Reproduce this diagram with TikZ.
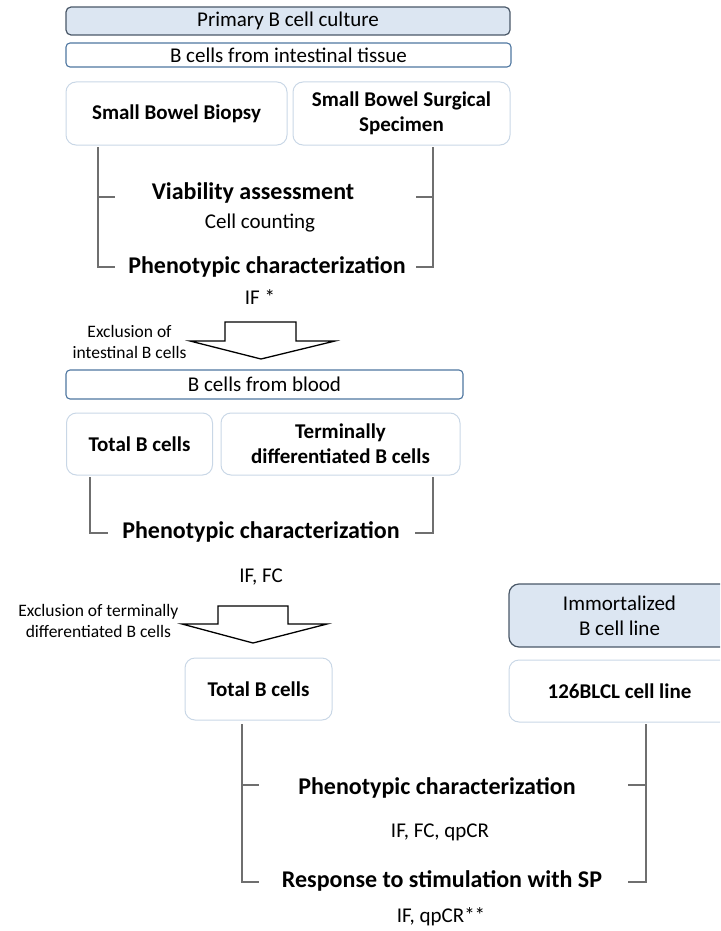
\documentclass[tikz,border=0pt]{standalone}
\usepackage{fontspec}
\setmainfont{Carlito}
\usetikzlibrary{positioning}

\begin{document}
\begin{tikzpicture}[x=1pt, y=-1pt,
    hdrbox/.style={draw=hdrBorder, fill=hdrFill, line width=1.2pt, rounded corners=5pt, inner sep=0pt, align=center, font=\fontsize{21}{25}\selectfont},
    srcbox/.style={draw=srcBorder, line width=1.1pt, rounded corners=4pt, inner sep=0pt, font=\fontsize{21}{25}\selectfont},
    typebox/.style={draw=typeBorder, line width=1pt, rounded corners=10pt, inner sep=0pt, align=center, font=\bfseries\fontsize{21}{25}\selectfont},
    stage/.style={font=\bfseries\fontsize{24}{28}\selectfont},
    method/.style={font=\fontsize{21}{24}\selectfont},
    note/.style={align=center, font=\fontsize{17.5}{21}\selectfont},
    bracket/.style={draw=bracketColour, line width=1.1pt},
    blockarrow/.style={draw=black, line width=1.3pt, fill=white, line join=miter}]

    \definecolor{hdrFill}{HTML}{DCE6F2}
    \definecolor{hdrBorder}{HTML}{4A5868}
    \definecolor{srcBorder}{HTML}{4E76A0}
    \definecolor{typeBorder}{HTML}{C9D7E6}
    \definecolor{bracketColour}{HTML}{6F6F6F}

    % Page size
    \useasboundingbox (0,0) rectangle (720,931);
    \clip (0,0) rectangle (720,931);

    % Primary culture: intestinal tissue
    \node[hdrbox, minimum width=444, minimum height=28] (primary) at (288,21) {Primary B cell culture};
    \node[srcbox, minimum width=445, minimum height=24] (intestine) at (288.5,55) {B cells from intestinal tissue};
    \node[typebox, minimum width=221, minimum height=63] (biopsy) at (176.5,113.5) {Small Bowel Biopsy};
    \node[typebox, minimum width=217, minimum height=63] (surgical) at (401.5,113.5) {Small Bowel Surgical\\Specimen};

    \node[stage] (viability) at (253,193) {Viability assessment};
    \node[method] (counting) at (260,223) {Cell counting};
    \node[stage] (phenoA) at (267,267) {Phenotypic characterization};
    \node[method] (methodA) at (260,297) {IF *};

    % Brackets
    \draw[bracket] (98,147) -- (98,267) -- (115,267);
    \draw[bracket] (98,197) -- (115,197);
    \draw[bracket] (433,147) -- (433,267) -- (416,267);
    \draw[bracket] (433,197) -- (416,197);

    % Exclusion of intestinal B cells
    \node[note, anchor=east] (exclA) at (190,342) {Exclusion of\\intestinal B cells};
    \draw[blockarrow] (225,322) -- (296,322) -- (296,341) -- (335,341) -- (261,359)
        -- (190,341) -- (225,341) -- cycle;

    % Blood
    \node[srcbox, minimum width=397, minimum height=29] (blood) at (264.5,384.5) {B cells from blood};
    \node[typebox, minimum width=146, minimum height=62] (totalA) at (139.5,444) {Total B cells};
    \node[typebox, minimum width=239, minimum height=62] (terminal) at (340.5,444) {Terminally\\differentiated B cells};

    \node[stage] (phenoB) at (261,532) {Phenotypic characterization};
    \node[method] (methodB) at (261,577) {IF, FC};

    \draw[bracket] (90,477) -- (90,533) -- (108,533);
    \draw[bracket] (433,477) -- (433,533) -- (415,533);

    % Exclusion of terminally differentiated B cells
    \node[note, anchor=east] (exclB) at (182,621) {Exclusion of terminally\\differentiated B cells};
    \draw[blockarrow] (218,606) -- (288,606) -- (288,624) -- (327,624) -- (253,643)
        -- (182,624) -- (218,624) -- cycle;

    \node[typebox, minimum width=147, minimum height=62] (totalB) at (258.5,689) {Total B cells};

    % Immortalized cell line
    \node[hdrbox, minimum width=221, minimum height=63, rounded corners=10pt] (immortal) at (619.5,615.5) {Immortalized\\B cell line};
    \node[typebox, minimum width=221, minimum height=62] (blcl) at (619.5,691) {126BLCL cell line};

    \node[stage] (phenoC) at (437,788) {Phenotypic characterization};
    \node[method] (methodC) at (440,832) {IF, FC, qpCR};
    \node[stage] (response) at (442,881) {Response to stimulation with SP};
    \node[method] (methodD) at (441,917) {IF, qpCR**};

    \draw[bracket] (242,724) -- (242,882) -- (259,882);
    \draw[bracket] (242,785) -- (259,785);
    \draw[bracket] (646,724) -- (646,882) -- (628,882);
    \draw[bracket] (646,785) -- (628,785);

\end{tikzpicture}
\end{document}
